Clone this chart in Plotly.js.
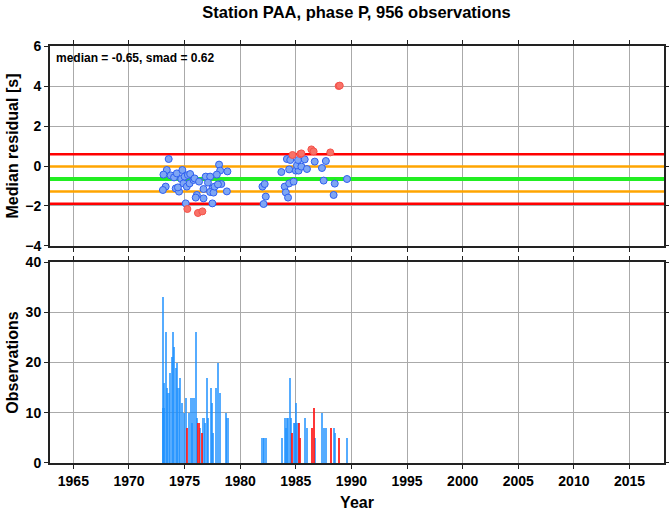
<!DOCTYPE html>
<html>
<head>
<meta charset="utf-8">
<script src="https://cdn.plot.ly/plotly-3.0.1.min.js"></script>
<style>html,body{margin:0;padding:0;background:#fff;}#chart{width:669px;height:511px;}</style>
</head>
<body>
<div id="chart"></div>
<script>
// ---- data ----
var medianRes = -0.65;
var smad = 0.62;

var blueYears = [1973.57,1973.4,1973.1,1973.3,1973.05,1973.75,1974.05,1974.3,1974.2,1974.5,1974.4,1974.8,1974.7,1974.9,1975.0,1975.3,1975.5,1975.2,1975.45,1975.8,1975.9,1976.3,1975.1,1976.1,1976.0,1976.7,1976.7,1976.9,1977.3,1977.1,1977.5,1977.3,1977.6,1977.7,1978.1,1978.2,1977.9,1978.85,1978.3,1978.0,1978.8,1977.5,
  1982.1,1982.3,1982.0,1982.2,1983.7,1984.2,1984.5,1984.4,1984.0,1984.1,1984.3,1984.4,1984.8,1985.0,1985.25,1985.1,1985.2,1985.5,1985.8,1986.0,1986.7,1987.35,1987.7,1987.5,1988.5,1988.4,1989.6];
var blueResid = [0.35,-0.2,-0.43,-1.03,-1.2,-0.47,-0.57,-0.37,-1.12,-1.28,-1.07,-0.2,-0.65,-0.87,-0.53,-0.45,-0.4,-1.03,-0.87,-0.7,-0.62,-0.78,-1.87,-1.45,-1.58,-1.62,-1.15,-0.53,-0.53,-0.83,-1.13,-1.3,-1.33,-1.03,0.07,-0.23,-0.43,-0.27,-0.9,-0.92,-1.27,-1.87,
  -1.9,-1.53,-1.03,-0.9,-0.3,0.35,0.3,-0.17,-1.03,-1.32,-1.58,-0.87,-0.78,-0.23,-0.23,0.03,0.3,-0.03,0.33,-0.15,0.22,-0.1,0.25,-0.73,-0.88,-1.45,-0.65];
var redYears = [1975.25,1976.2,1976.6,1984.7,1985.4,1985.5,1986.4,1986.6,1988.1,1988.85,1988.95];
var redResid = [-2.15,-2.35,-2.27,0.55,0.6,0.63,0.83,0.73,0.68,4.0,4.02];

var blueBarYears = [1973.05,1973.1,1973.15,1973.3,1973.4,1973.55,1973.7,1973.85,1973.95,1974.05,1974.2,1974.3,1974.45,1974.6,1974.75,1974.95,1975.1,1975.4,1975.55,1975.65,1975.8,1976.0,1976.1,1976.4,1976.7,1976.8,1977.0,1977.1,1977.35,1977.45,1977.55,1977.85,1978.0,1978.15,1978.75,1978.85,
  1982.0,1982.15,1982.35,1983.75,1984.0,1984.1,1984.2,1984.3,1984.45,1984.55,1984.85,1984.95,1985.05,1985.15,1985.85,1986.0,1986.7,1987.35,1987.5,1987.7,1988.4,1988.5,1989.6];
var blueBarCounts = [33,11,16,26,15,14,18,21,26,23,19,20,15,17,12,10,13,10,13,8,13,26,9,7,9,8,17,9,15,12,6,15,20,14,10,9,
  5,5,5,5,9,7,9,9,17,9,8,8,12,8,9,7,5,10,7,7,7,6,5];
var redBarYears = [1975.25,1976.25,1976.6,1984.7,1985.3,1985.4,1986.45,1986.6,1988.15,1988.85];
var redBarCounts = [7,8,6,6,8,5,7,11,7,5];

var xRange = [1962.9, 2018.1];

// ---- traces ----
function refLine(yv, color, w){
  return {type:'scatter', mode:'lines', x:xRange, y:[yv, yv], xaxis:'x', yaxis:'y',
          line:{color:color, width:w}, hoverinfo:'skip', cliponaxis:true};
}
var ptLine = {color:'#2f5ff0', width:1};
var traces = [
  refLine(medianRes + 2*smad, '#ff0000', 2.5),
  refLine(medianRes - 2*smad, '#ff0000', 2.5),
  refLine(medianRes + smad, '#ffa500', 2.5),
  refLine(medianRes - smad, '#ffa500', 2.5),
  refLine(medianRes, '#22ee22', 4),
  {type:'scatter', mode:'markers', x:blueYears, y:blueResid, xaxis:'x', yaxis:'y',
   marker:{size:7, color:'#7ea6f4', line:ptLine}, hoverinfo:'x+y'},
  {type:'scatter', mode:'markers', x:redYears, y:redResid, xaxis:'x', yaxis:'y',
   marker:{size:7, color:'#f87268', line:{color:'#f5524a', width:1}}, hoverinfo:'x+y'},
  {type:'bar', x:blueBarYears, y:blueBarCounts, xaxis:'x2', yaxis:'y2', width:0.2,
   marker:{color:'rgba(30,144,255,0.75)', line:{width:0}}},
  {type:'bar', x:redBarYears, y:redBarCounts, xaxis:'x2', yaxis:'y2', width:0.18,
   marker:{color:'rgba(255,20,20,0.85)', line:{width:0}}}
];

var tickF = {family:'Liberation Sans, Arial, sans-serif', size:14, color:'#000', weight:'bold'};
var titleF = {family:'Liberation Sans, Arial, sans-serif', size:16, color:'#000', weight:'bold'};
var axCommon = {showline:true, linecolor:'#222', linewidth:2, mirror:'ticks', ticks:'outside', ticklen:4,
  tickcolor:'#222', tickwidth:1, showgrid:true, gridcolor:'#aaaaaa', gridwidth:1, zeroline:false, tickfont:tickF};

var layout = {
  width:669, height:511,
  margin:{l:50, r:5, t:46, b:48},
  paper_bgcolor:'#fff', plot_bgcolor:'#fff',
  showlegend:false, barmode:'overlay', bargap:0,
  title:{text:'Station PAA, phase P, 956 observations', x:0.533, xref:'container', y:0.976, yref:'container', yanchor:'middle', xanchor:'center',
         font:{family:'Liberation Sans, Arial, sans-serif', size:16.5, color:'#000', weight:'bold'}},
  xaxis:Object.assign({}, axCommon, {domain:[0,1], anchor:'y', range:xRange, tick0:1965, dtick:5, showticklabels:false}),
  xaxis2:Object.assign({}, axCommon, {domain:[0,1], anchor:'y2', range:xRange, tick0:1965, dtick:5, matches:'x',
          title:{text:'Year', font:titleF, standoff:12}}),
  yaxis:Object.assign({}, axCommon, {domain:[0.5204,1], anchor:'x', range:[-4,6], dtick:2,
          title:{text:'Median residual [s]', font:titleF, standoff:3}}),
  yaxis2:Object.assign({}, axCommon, {domain:[0,0.482], anchor:'x2', range:[0,40], dtick:10,
          title:{text:'Observations', font:titleF, standoff:3}}),
  annotations:[
    {text:'median = ' + medianRes.toFixed(2) + ', smad = ' + smad.toFixed(2), xref:'x domain', yref:'y domain',
     x:0.006, y:0.985, xanchor:'left', yanchor:'top', showarrow:false,
     font:{family:'Liberation Sans, Arial, sans-serif', size:12, color:'#000', weight:'bold'}}
  ]
};

Plotly.newPlot('chart', traces, layout, {displayModeBar:false, staticPlot:true});
</script>
</body>
</html>
